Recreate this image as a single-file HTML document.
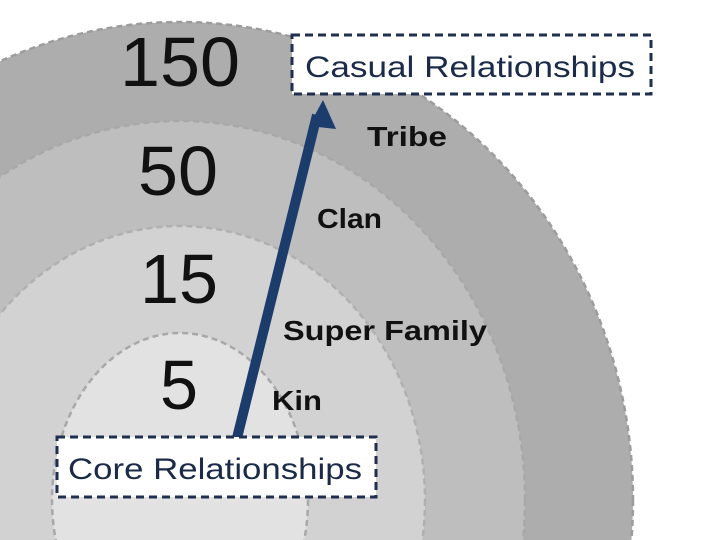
<!DOCTYPE html>
<html><head><meta charset="utf-8"><style>html,body{margin:0;padding:0;background:#fff;width:720px;height:540px;overflow:hidden;}svg{display:block}</style></head>
<body>
<svg width="720" height="540" viewBox="0 0 720 540" xmlns="http://www.w3.org/2000/svg">
<rect width="720" height="540" fill="#fff"/>
<g stroke-dasharray="6,4" stroke-width="2.5">
<ellipse cx="180" cy="500" rx="453" ry="478" fill="#adadad" stroke="#9c9c9c"/>
<ellipse cx="180" cy="500" rx="345" ry="379" fill="#bebebe" stroke="#a8a8a8"/>
<ellipse cx="180" cy="500" rx="245" ry="274" fill="#d2d2d2" stroke="#b0b0b0"/>
<ellipse cx="180" cy="500" rx="128" ry="167" fill="#e2e2e2" stroke="#a8a8a8"/>
</g>
<g font-family="Liberation Sans, sans-serif" fill="#111">
<text x="120" y="86" font-size="70" textLength="120" lengthAdjust="spacingAndGlyphs">150</text>
<text x="138" y="195" font-size="70" textLength="80" lengthAdjust="spacingAndGlyphs">50</text>
<text x="140" y="303" font-size="70" textLength="78" lengthAdjust="spacingAndGlyphs">15</text>
<text x="160" y="409" font-size="70" textLength="38" lengthAdjust="spacingAndGlyphs">5</text>
</g>
<g font-family="Liberation Sans, sans-serif" font-weight="bold" fill="#111" font-size="28">
<text x="367" y="146" textLength="80" lengthAdjust="spacingAndGlyphs">Tribe</text>
<text x="317" y="228" textLength="65" lengthAdjust="spacingAndGlyphs">Clan</text>
<text x="283" y="340" textLength="204" lengthAdjust="spacingAndGlyphs">Super Family</text>
<text x="272" y="410" textLength="50" lengthAdjust="spacingAndGlyphs">Kin</text>
</g>
<line x1="237" y1="438" x2="317" y2="115" stroke="#1c3c6c" stroke-width="10"/>
<polygon points="323,100 309,126 336,129" fill="#1c3c6c"/>
<rect x="292" y="35" width="359" height="59" fill="#fff" stroke="#1f2f4f" stroke-width="3" stroke-dasharray="8,5"/>
<rect x="57" y="437" width="319" height="60" fill="#fff" stroke="#1f2f4f" stroke-width="3" stroke-dasharray="8,5"/>
<g font-family="Liberation Sans, sans-serif" fill="#1a2a48" font-size="30">
<text x="305" y="77" textLength="330" lengthAdjust="spacingAndGlyphs">Casual  Relationships</text>
<text x="68" y="479" textLength="294" lengthAdjust="spacingAndGlyphs">Core Relationships</text>
</g>
</svg>
</body></html>
